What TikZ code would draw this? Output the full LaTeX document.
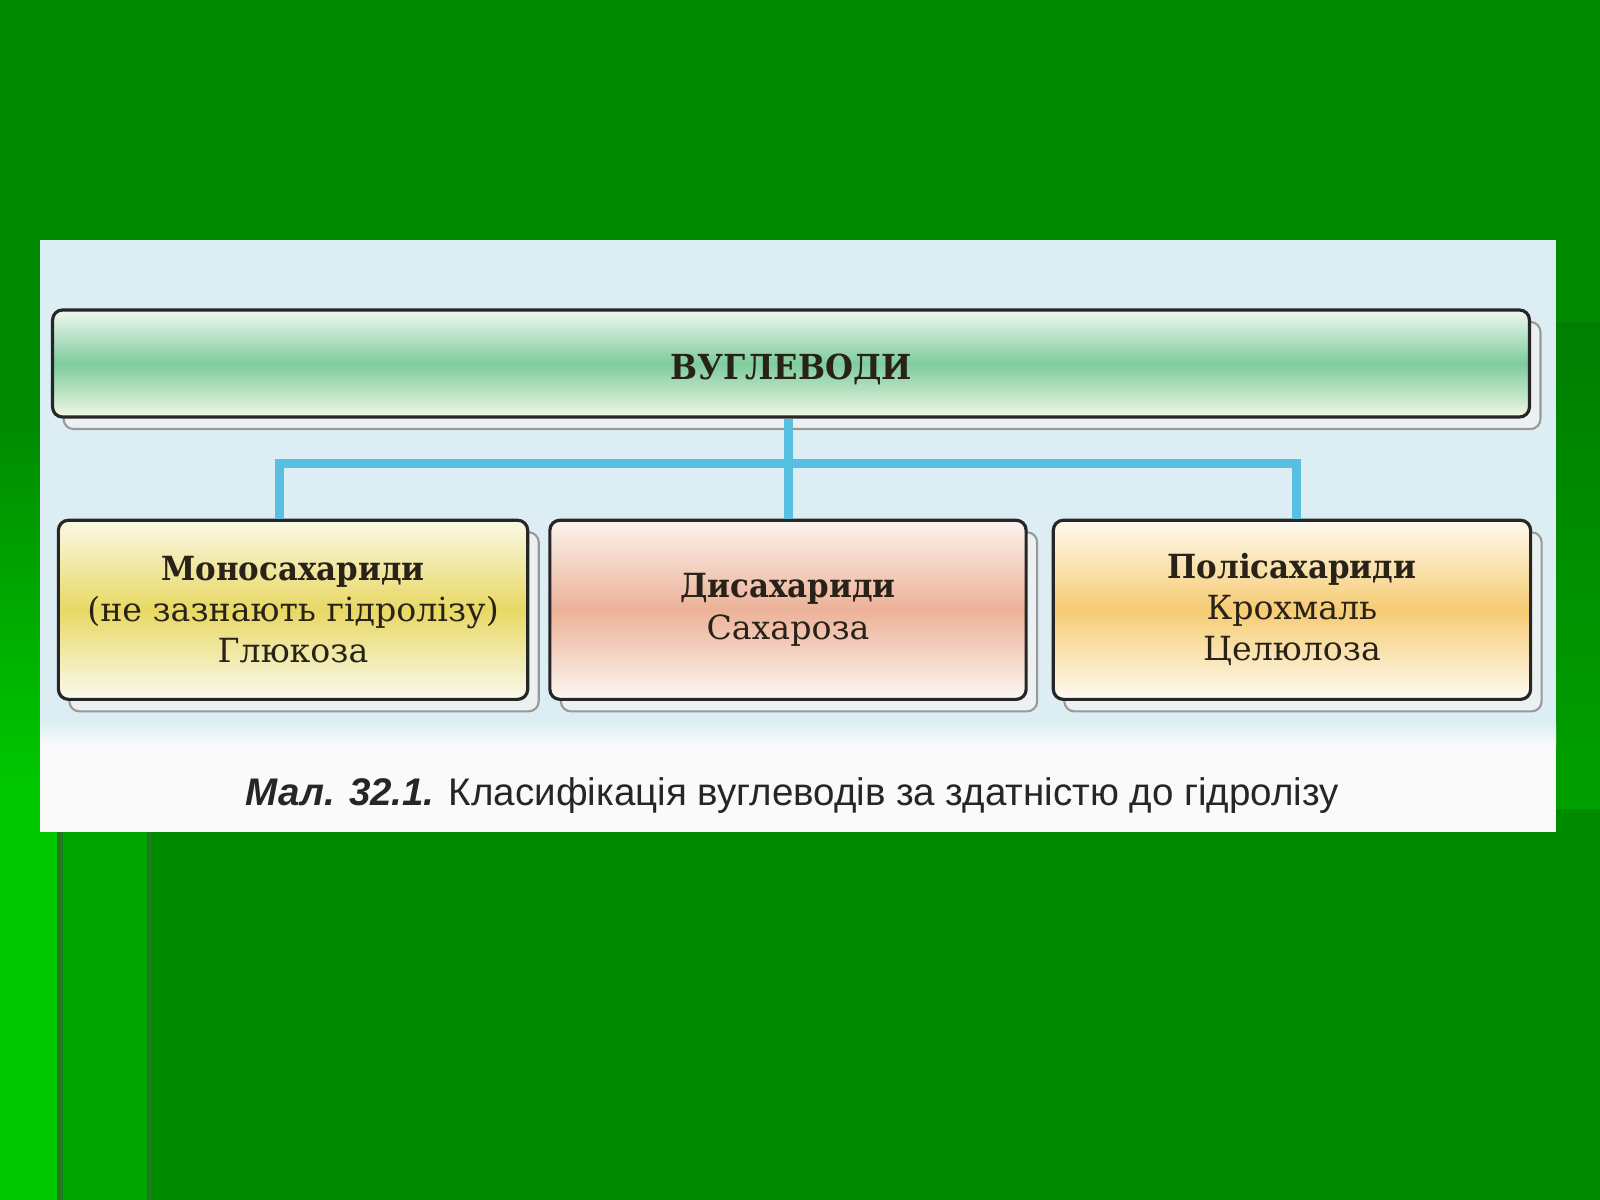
\documentclass[tikz,border=0pt]{standalone}
\usepackage{fontspec}
\setmainfont{DejaVu Serif}[BoldFeatures={FakeStretch=0.93}]
\setsansfont{Liberation Sans}
\usetikzlibrary{positioning,shadows}

\definecolor{slidegreen}{RGB}{0,138,0}
\definecolor{stripbright}{RGB}{0,200,0}
\definecolor{stripmid}{RGB}{0,166,0}
\definecolor{stripline}{RGB}{34,120,34}
\definecolor{stripdark}{RGB}{0,126,0}
\definecolor{stripglow}{RGB}{0,160,0}
\definecolor{panelblue}{RGB}{220,238,244}
\definecolor{panelwhite}{RGB}{250,250,250}
\definecolor{linkblue}{RGB}{88,190,226}
\definecolor{inkdark}{RGB}{40,34,24}
\definecolor{shadowfill}{RGB}{236,240,240}
\definecolor{carbstop}{RGB}{240,248,242}
\definecolor{carbsmid}{RGB}{126,204,156}
\definecolor{carbsbot}{RGB}{240,247,230}
\definecolor{monotop}{RGB}{250,248,230}
\definecolor{monomid}{RGB}{232,216,100}
\definecolor{monobot}{RGB}{250,250,238}
\definecolor{ditop}{RGB}{252,243,238}
\definecolor{dimid}{RGB}{236,178,152}
\definecolor{dibot}{RGB}{252,247,242}
\definecolor{polytop}{RGB}{253,249,238}
\definecolor{polymid}{RGB}{246,204,116}
\definecolor{polybot}{RGB}{253,251,242}

\begin{document}
\begin{tikzpicture}[x=0.01cm, y=-0.01cm, node distance=1cm,
    box/.style={rectangle, rounded corners=0.1cm, draw=black!85, line width=0.9pt,
        align=center, text=inkdark, font=\fontsize{9.45}{11.7}\selectfont,
        copy shadow={shadow xshift=0.11cm, shadow yshift=-0.12cm, draw=black!40, fill=shadowfill, line width=0.6pt}},
    link/.style={draw=linkblue, line width=0.09cm}]
    \useasboundingbox (0,0) rectangle (1600,1200);

    % slide background
    \fill [slidegreen] (0,0) rectangle (1600,1200);
    \shade [top color=slidegreen, bottom color=stripbright] (0,420) rectangle (57,790);
    \fill [stripbright] (0,790) rectangle (57,1200);
    \fill [stripline] (57,832) rectangle (63,1200);
    \fill [stripmid] (63,832) rectangle (147,1200);
    \fill [stripline] (147,832) rectangle (152,1200);
    \shade [top color=stripdark, bottom color=stripglow] (1556,322) rectangle (1600,808);

    % picture panel
    \fill [panelwhite] (40,240) rectangle (1556,832);
    \fill [panelblue] (40,240) rectangle (1556,722);
    \shade [top color=panelblue, bottom color=panelwhite] (40,722) rectangle (1556,745);

    \node (carbs) [box, minimum width=14.76cm, minimum height=1.07cm, font=\fontsize{9.8}{11.7}\selectfont,
        top color=carbstop, bottom color=carbsbot, middle color=carbsmid] at (791,363.5) {\raisebox{-0.6mm}[\height][\depth]{\textbf{ВУГЛЕВОДИ}}};
    \node (di) [box, below=1cm of carbs, xshift=-0.03cm, minimum width=4.76cm, minimum height=1.79cm,
        top color=ditop, bottom color=dibot, middle color=dimid] {\textbf{Дисахариди}\\Сахароза};
    \node (mono) [box, left=0.19cm of di, minimum width=4.69cm, minimum height=1.79cm,
        top color=monotop, bottom color=monobot, middle color=monomid] {\textbf{Моносахариди}\\(не зазнають гідролізу)\\Глюкоза};
    \node (poly) [box, right=0.24cm of di, minimum width=4.77cm, minimum height=1.79cm,
        top color=polytop, bottom color=polybot, middle color=polymid] {\textbf{Полісахариди}\\Крохмаль\\Целюлоза};

    \coordinate (bus) at (788,463);
    \draw [link] (carbs.south -| di.north) -- (di.north);
    \draw [link] ([xshift=-0.14cm]mono.north) |- (bus) -| ([xshift=0.045cm]poly.north);

    \node (caption) [anchor=west, inner sep=0pt, text=black!85, font=\sffamily\fontsize{10.95}{12}\selectfont] at (245,796)
        {\textbf{\textit{Мал. 32.1.}} Класифікація вуглеводів за здатністю до гідролізу};
\end{tikzpicture}
\end{document}
